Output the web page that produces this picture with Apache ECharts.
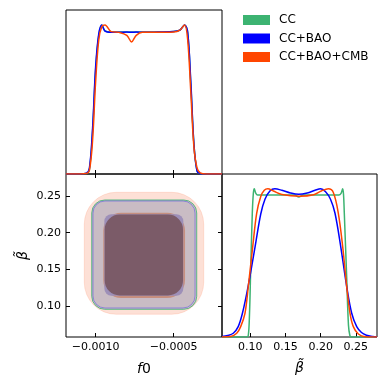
<!DOCTYPE html>
<html lang="en">
<head>
<meta charset="UTF-8">
<title>triangle plot</title>
<style>
  html, body { margin: 0; padding: 0; background: #fff; }
  #main { width: 387px; height: 388px; }
</style>
</head>
<body>
<div id="main"></div>
<script src="https://cdn.jsdelivr.net/npm/echarts@6/dist/echarts.min.js"></script>
<script>
// ---- data ----
const names = ['CC', 'CC+BAO', 'CC+BAO+CMB'];
const colors = ['#3cb371', '#0000ff', '#ff4500'];

const f0Min = -0.00119, f0Max = -0.00019;
const betaMinY = 0.058, betaMinX = 0.06, betaMax = 0.28;
const pdfMax = 1.1;

const f0Ticks = [-0.0010, -0.0005];
const f0TickLabels = ['\u22120.0010', '\u22120.0005'];
const betaTicks = [0.10, 0.15, 0.20, 0.25];
const betaTickLabels = ['0.10', '0.15', '0.20', '0.25'];

// 1D marginal of f0 (normalised to peak 1)
const f0Grid = [-0.00119, -0.00110, -0.00106, -0.00104, -0.00102, -0.00100, -0.00098, -0.00096, -0.00094, -0.00090,
  -0.00085, -0.00080, -0.00077, -0.00074, -0.00070, -0.00060, -0.00050, -0.00046, -0.00043, -0.00041,
  -0.00039, -0.00037, -0.00035, -0.00033, -0.00029, -0.00019];
const ccF0  = [0, 0, 0.003, 0.03, 0.28, 0.7, 0.93, 1.0, 0.96, 0.952, 0.952, 0.952, 0.952, 0.952, 0.952, 0.952, 0.955, 0.965, 1.0, 0.95, 0.6, 0.2, 0.02, 0.002, 0, 0];
const baoF0 = [0, 0, 0.005, 0.04, 0.3, 0.72, 0.94, 1.0, 0.958, 0.95, 0.95, 0.952, 0.95, 0.952, 0.95, 0.952, 0.955, 0.965, 1.0, 0.95, 0.62, 0.2, 0.02, 0.002, 0, 0];
const cmbF0 = [0, 0, 0.003, 0.025, 0.22, 0.62, 0.9, 0.99, 1.0, 0.955, 0.95, 0.93, 0.886, 0.93, 0.95, 0.95, 0.952, 0.965, 1.0, 0.9, 0.55, 0.18, 0.04, 0.008, 0, 0];

// 1D marginal of beta
const ccBetaX = [0.06, 0.095, 0.0973, 0.099, 0.1007, 0.103, 0.1045, 0.1058, 0.108, 0.1105, 0.14, 0.163, 0.169, 0.175, 0.20, 0.226, 0.229, 0.2313, 0.2325, 0.2336, 0.237, 0.2395, 0.2415, 0.2435, 0.28];
const ccBetaY = [0, 0, 0.01, 0.15, 0.45, 0.835, 0.97, 1.0, 0.97, 0.958, 0.958, 0.958, 0.945, 0.958, 0.958, 0.958, 0.97, 1.0, 0.96, 0.835, 0.4, 0.08, 0.01, 0, 0];
const baoBetaX = [0.06, 0.068, 0.076, 0.083, 0.089, 0.097, 0.107, 0.115, 0.121, 0.128, 0.135, 0.145, 0.157, 0.169, 0.181, 0.192, 0.2, 0.207, 0.214, 0.2204, 0.2285, 0.237, 0.2441, 0.2512, 0.258, 0.265, 0.274, 0.28];
const baoBetaY = [0.003, 0.01, 0.025, 0.07, 0.16, 0.34, 0.61, 0.83, 0.93, 0.985, 1.0, 0.99, 0.972, 0.963, 0.972, 0.99, 1.0, 0.98, 0.93, 0.835, 0.61, 0.34, 0.16, 0.07, 0.03, 0.012, 0.003, 0.001];
const cmbBetaX = [0.06, 0.072, 0.0809, 0.0865, 0.0926, 0.0973, 0.1036, 0.1092, 0.1149, 0.12, 0.125, 0.133, 0.145, 0.17, 0.19, 0.201, 0.211, 0.218, 0.2251, 0.2313, 0.237, 0.2417, 0.2464, 0.2535, 0.263, 0.28];
const cmbBetaY = [0, 0.003, 0.025, 0.07, 0.16, 0.34, 0.61, 0.835, 0.947, 0.99, 1.0, 0.985, 0.962, 0.95, 0.96, 0.985, 1.0, 0.975, 0.835, 0.61, 0.34, 0.16, 0.07, 0.02, 0.002, 0];

// 2D credible regions: [f0 min, f0 max, beta min, beta max]
const cc95  = [-0.001025, -0.000352, 0.0957, 0.2446];
const cc68  = [-0.000942, -0.000440, 0.1145, 0.2248];
const bao95 = [-0.001017, -0.000363, 0.0975, 0.2432];
const bao68 = [-0.000944, -0.000438, 0.1142, 0.2251];
const cmb95 = [-0.001073, -0.000307, 0.0889, 0.2551];
const cmb68 = [-0.000951, -0.000427, 0.1111, 0.2273];

// ---- drawing ----
const contours = [cmb95, cc95, bao95, cmb68, bao68, cc68];
const contourStyles = [
  { r: 32, fill: '#fde0d6', stroke: 'rgba(255,69,0,0.12)', lw: 1 },
  { r: 13, fill: '#c9bcc4', stroke: 'rgba(60,179,113,0.8)', lw: 1 },
  { r: 12, fill: 'rgba(0,0,0,0)', stroke: 'rgba(0,0,255,0.3)', lw: 1 },
  { r: 18, fill: '#c68f7f', stroke: null, lw: 0 },
  { r: 7, fill: '#9d8fb8', stroke: null, lw: 0 },
  { r: 15, fill: '#7b5b68', stroke: null, lw: 0 }
];

const font = 'DejaVu Sans';
const zip = (xs, ys) => xs.map((x, i) => [x, ys[i]]);
const pick = (ticks, labels) => v => {
  const i = ticks.findIndex(t => Math.abs(t - v) < 1e-9);
  return i < 0 ? '' : labels[i];
};

const tick = vals => ({ show: true, inside: true, length: 4, lineStyle: { color: '#000', width: 1 }, customValues: vals });
const noLabel = { show: false };
const lab = (vals, fmt) => ({ show: true, customValues: vals, formatter: fmt, fontSize: 11, fontFamily: font, color: '#000', margin: 5 });
const frame = { show: true, borderColor: '#000', borderWidth: 1, backgroundColor: 'rgba(0,0,0,0)' };

function lineSeries(i, xi, yi, data) {
  return {
    name: names[i], type: 'line', xAxisIndex: xi, yAxisIndex: yi, data: data,
    symbol: 'none', smooth: 0.35,
    lineStyle: { color: colors[i], width: 1.5 }, itemStyle: { color: colors[i] },
    z: 3 + i
  };
}

const chart = echarts.init(document.getElementById('main'), null, { renderer: 'canvas' });
chart.setOption({
  animation: false,
  backgroundColor: '#fff',
  grid: [
    Object.assign({ left: 66, top: 10, width: 156, height: 164 }, frame),
    Object.assign({ left: 66, top: 174, width: 156, height: 163 }, frame),
    Object.assign({ left: 222, top: 174, width: 155, height: 163 }, frame)
  ],
  legend: {
    orient: 'vertical', left: 243, top: 14, padding: 0, itemWidth: 27, itemHeight: 10, itemGap: 6.5,
    icon: 'rect', data: names,
    itemStyle: { borderWidth: 0 },
    textStyle: { fontSize: 12, fontFamily: font, color: '#000', padding: [0, 0, 0, 4] }
  },
  xAxis: [
    { gridIndex: 0, type: 'value', min: f0Min, max: f0Max, position: 'bottom',
      axisLine: { show: false }, axisTick: tick(f0Ticks), axisLabel: noLabel, splitLine: { show: false } },
    { gridIndex: 1, type: 'value', min: f0Min, max: f0Max, position: 'bottom',
      axisLine: { show: false }, axisTick: tick(f0Ticks), axisLabel: lab(f0Ticks, pick(f0Ticks, f0TickLabels)),
      splitLine: { show: false },
      name: '{i|f}0', nameLocation: 'middle', nameGap: 25,
      nameTextStyle: { fontSize: 14, fontFamily: font, color: '#000',
        rich: { i: { fontSize: 14, fontFamily: font, fontStyle: 'italic', color: '#000' } } } },
    { gridIndex: 1, type: 'value', min: f0Min, max: f0Max, position: 'top',
      axisLine: { show: false }, axisTick: tick(f0Ticks), axisLabel: noLabel, splitLine: { show: false } },
    { gridIndex: 2, type: 'value', min: betaMinX, max: betaMax, position: 'bottom',
      axisLine: { show: false }, axisTick: tick(betaTicks), axisLabel: lab(betaTicks, pick(betaTicks, betaTickLabels)),
      splitLine: { show: false },
      name: '\u03B2\u0303', nameLocation: 'middle', nameGap: 24,
      nameTextStyle: { fontSize: 14, fontFamily: font, fontStyle: 'italic', color: '#000' } }
  ],
  yAxis: [
    { gridIndex: 0, type: 'value', min: 0, max: pdfMax, show: false },
    { gridIndex: 1, type: 'value', min: betaMinY, max: betaMax, position: 'left',
      axisLine: { show: false }, axisTick: tick(betaTicks), axisLabel: lab(betaTicks, pick(betaTicks, betaTickLabels)),
      splitLine: { show: false },
      name: '\u03B2\u0303', nameLocation: 'middle', nameGap: 36, nameRotate: 90,
      nameTextStyle: { fontSize: 14, fontFamily: font, fontStyle: 'italic', color: '#000' } },
    { gridIndex: 1, type: 'value', min: betaMinY, max: betaMax, position: 'right',
      axisLine: { show: false }, axisTick: tick(betaTicks), axisLabel: noLabel, splitLine: { show: false } },
    { gridIndex: 2, type: 'value', min: 0, max: pdfMax, show: false }
  ],
  series: [
    {
      type: 'custom', xAxisIndex: 1, yAxisIndex: 1, clip: true,
      data: contours, encode: { x: [0, 1], y: [2, 3] },
      renderItem: function (params, api) {
        const lo = api.coord([api.value(0), api.value(2)]);
        const hi = api.coord([api.value(1), api.value(3)]);
        const s = contourStyles[params.dataIndex];
        return {
          type: 'rect',
          shape: { x: lo[0], y: hi[1], width: hi[0] - lo[0], height: lo[1] - hi[1], r: s.r },
          style: { fill: s.fill, stroke: s.stroke, lineWidth: s.lw }
        };
      }
    },
    lineSeries(0, 0, 0, zip(f0Grid, ccF0)),
    lineSeries(1, 0, 0, zip(f0Grid, baoF0)),
    lineSeries(2, 0, 0, zip(f0Grid, cmbF0)),
    lineSeries(0, 3, 3, zip(ccBetaX, ccBetaY)),
    lineSeries(1, 3, 3, zip(baoBetaX, baoBetaY)),
    lineSeries(2, 3, 3, zip(cmbBetaX, cmbBetaY))
  ]
});
</script>
</body>
</html>
